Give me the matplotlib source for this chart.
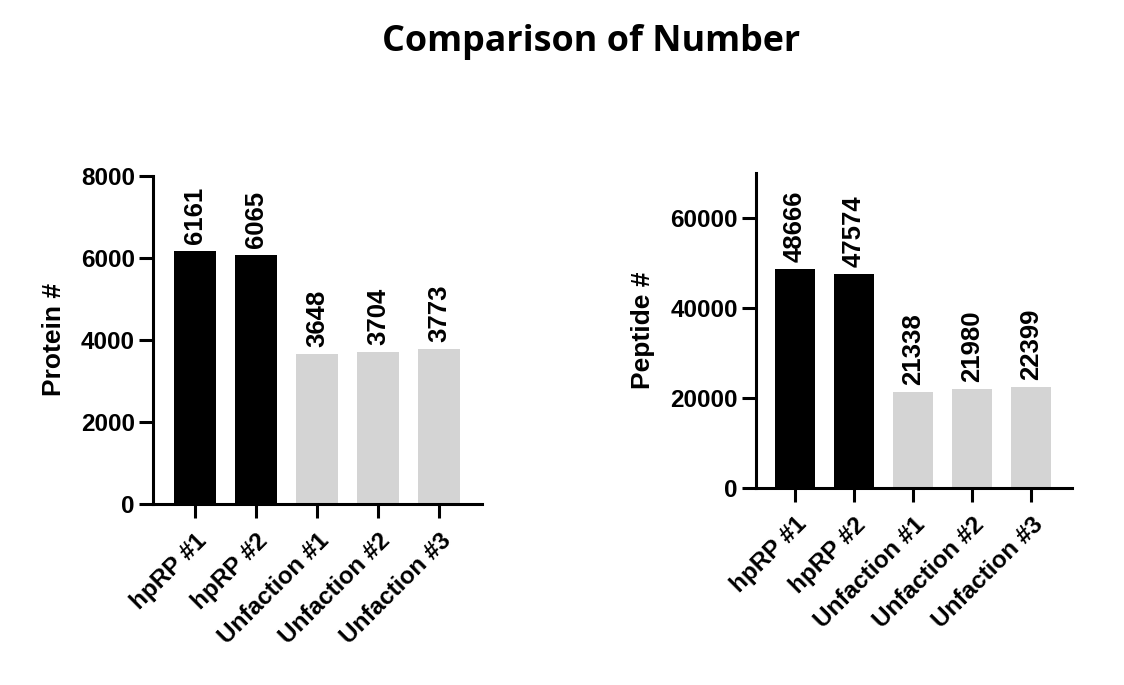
import matplotlib
matplotlib.use('Agg')
import matplotlib.pyplot as plt

samples = ['hpRP #1', 'hpRP #2', 'Unfaction #1', 'Unfaction #2', 'Unfaction #3']
protein_counts = [6161, 6065, 3648, 3704, 3773]
peptide_counts = [48666, 47574, 21338, 21980, 22399]
bar_colors = ['#000000', '#000000', '#d4d4d4', '#d4d4d4', '#d4d4d4']

plt.rcParams['font.family'] = ['Liberation Sans', 'DejaVu Sans']
plt.rcParams['font.weight'] = 'bold'

fig = plt.figure(figsize=(11.24, 6.85), dpi=100)
fig.text(0.526, 0.939, 'Comparison of Number', ha='center', va='center',
         fontsize=25.8, fontweight='bold', family=['Open Sans', 'DejaVu Sans'])


def draw(ax, values, ylabel, ymax, yticks, xlim):
    x = list(range(len(values)))
    ax.bar(x, values, width=0.68, color=bar_colors)
    for xi, v in zip(x, values):
        ax.annotate(str(v), (xi, v), xytext=(0, 5), textcoords='offset points',
                    rotation=90, ha='center', va='bottom', fontsize=18.5,
                    fontweight='bold')
    ax.set_xlim(*xlim)
    ax.set_ylim(0, ymax)
    ax.set_yticks(yticks)
    ax.set_xticks(x)
    ax.set_xticklabels(samples, rotation=45, ha='right', rotation_mode='anchor',
                       fontsize=17.5, fontweight='bold')
    ax.set_ylabel(ylabel, fontsize=19, fontweight='bold', labelpad=11)
    for s in ['top', 'right']:
        ax.spines[s].set_visible(False)
    for s in ['left', 'bottom']:
        ax.spines[s].set_linewidth(2.2)
    ax.tick_params(axis='y', width=2.2, length=10, labelsize=17.5, pad=3)
    ax.tick_params(axis='x', width=2.2, length=10, pad=8)
    for lab in ax.get_yticklabels():
        lab.set_fontweight('bold')


ax1 = fig.add_axes([0.1361, 0.2642, 0.2927, 0.4789])
draw(ax1, protein_counts, 'Protein #', 8000, [0, 2000, 4000, 6000, 8000], (-0.69, 4.70))

ax2 = fig.add_axes([0.6726, 0.2876, 0.2811, 0.4599])
draw(ax2, peptide_counts, 'Peptide #', 70000, [0, 20000, 40000, 60000], (-0.66, 4.69))

fig.savefig('out.png', dpi=100)
